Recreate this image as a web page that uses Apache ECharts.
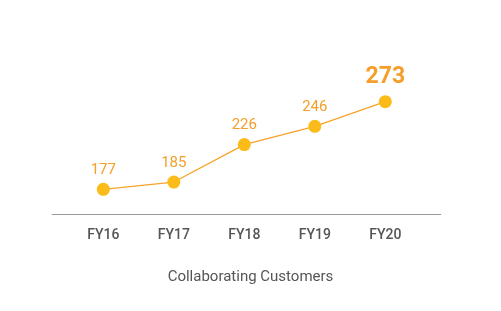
<!DOCTYPE html>
<html><head><meta charset="utf-8">
<script src="https://cdn.jsdelivr.net/npm/echarts@6/dist/echarts.min.js"></script>
<style>html,body{margin:0;padding:0;background:#fff}#c{width:501px;height:311px}</style>
</head><body><div id="c"></div>
<script>
var categories = ['FY16', 'FY17', 'FY18', 'FY19', 'FY20'];
var customers = [177, 185, 226, 246, 273];
var chartTitle = 'Collaborating Customers';

var chart = echarts.init(document.getElementById('c'), null, {renderer: 'canvas'});
var data = customers.map(function (v, i) {
  var item = {value: [i, v]};
  if (i === customers.length - 1) {
    item.label = {fontSize: 23, fontWeight: 'bold', distance: 6};
  }
  return item;
});
chart.setOption({
  animation: false,
  backgroundColor: '#fff',
  title: {
    text: chartTitle, left: 'center', top: 265,
    textStyle: {fontFamily: 'Roboto', fontSize: 15, fontWeight: 'normal', color: '#555'}
  },
  grid: {left: 52, right: 60.3, top: 77, bottom: 97},
  xAxis: {
    type: 'value', min: -0.728, max: 4.786,
    axisLine: {show: true, lineStyle: {color: '#999', width: 1}},
    axisTick: {show: false},
    splitLine: {show: false},
    axisLabel: {
      customValues: [0, 1, 2, 3, 4],
      margin: 14,
      fontFamily: 'Roboto', fontSize: 14, fontWeight: 500, color: '#555',
      formatter: function (v) { return categories[Math.round(v)]; }
    }
  },
  yAxis: {
    type: 'value', min: 150, max: 300, show: false, splitLine: {show: false}
  },
  series: [{
    type: 'line',
    data: data,
    symbol: 'circle', symbolSize: 13,
    itemStyle: {color: '#fbbb19'},
    lineStyle: {color: '#f7a32a', width: 1.3},
    label: {
      show: true, position: 'top', distance: 5,
      fontFamily: 'Roboto', fontSize: 15, color: '#f59e2a',
      formatter: function (p) { return p.value[1]; }
    }
  }]
});
</script></body></html>
